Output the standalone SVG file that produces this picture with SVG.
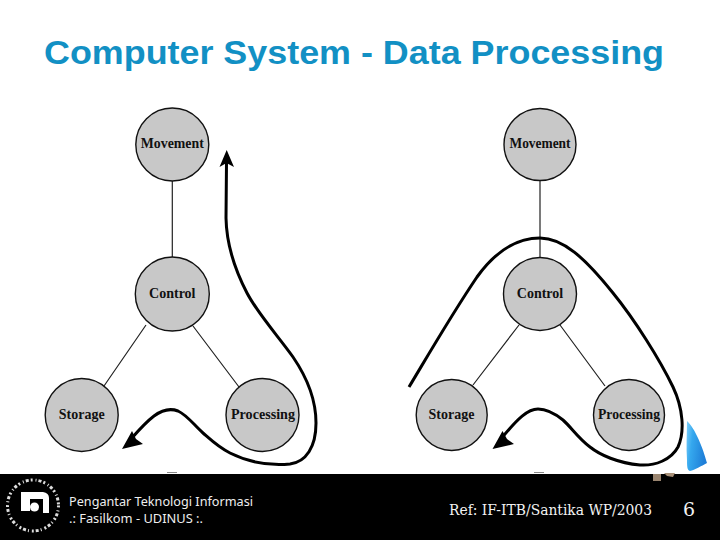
<svg xmlns="http://www.w3.org/2000/svg" width="720" height="540" viewBox="0 0 720 540">
  <defs>
    <linearGradient id="drop" x1="0" y1="0" x2="1" y2="0.3">
      <stop offset="0" stop-color="#7fd0fa"/>
      <stop offset="0.35" stop-color="#35a8ee"/>
      <stop offset="1" stop-color="#1f7fd8"/>
    </linearGradient>
  </defs>
  <style>
    .title{font:bold 33.5px "Liberation Sans",Arial,sans-serif;fill:#1290c4}
    .node{fill:#c8c8c8;stroke:#111;stroke-width:1.4}
    .lbl{font:bold 14px "Liberation Serif","Times New Roman",serif;fill:#111;text-anchor:middle}
    .link{stroke:#222;stroke-width:1.2;fill:none}
    .flow{stroke:#000;stroke-width:3;fill:none;stroke-linecap:butt;stroke-linejoin:round}
    .head{fill:#000}
    .foot{font:13px "Noto Sans","DejaVu Sans",sans-serif;fill:#eee}
    .ref{font:14px "DejaVu Serif","Liberation Serif",serif;fill:#f2f2f2}
  </style>

  <rect width="720" height="540" fill="#fff"/>
  <text class="title" x="44" y="64" textLength="620" lengthAdjust="spacingAndGlyphs">Computer System - Data Processing</text>

  <g id="connectors">
    <path class="link" d="M172.3 181V257M146 325L104 386M193 326L239 387"/>
    <path class="link" d="M540 181V257M519 325L473 385M560 325L605 386"/>
    <path class="flow" d="M226.5 163L226 218C226.5 245 234 268 247 293C258 314 278 336 293 357C306 376 316 400 316 423C316 447 306 462 290 464C268 466 246 461 230 453C218 447 211 440 203 433C194 425 187 415 178 411C170 408 162 410 154 416C146 422 138 431 131 439"/>
    <polygon class="head" points="226.7,150 219.5,167 226.5,163 234,167"/>
    <polygon class="head" points="122,449 132,431 136,439 143,444"/>
    <path class="flow" d="M409 387C430 352 452 314 477 277C495 252 515 238 540 238C563 238 585 258 613 293C635 320 660 360 673 387C683 408 685 432 678 447C671 460 655 466 640 465C618 463 600 455 590 447C578 438 571 427 563 420C553 412 546 409 538 409C528 409 518 418 501 439"/>
    <polygon class="head" points="492.5,449 502.5,431 507,439 514,444"/>
  </g>

  <g id="node-movement-left"><circle class="node" cx="172.3" cy="144.5" r="36.5"/><text class="lbl" x="172.3" y="148" textLength="63" lengthAdjust="spacingAndGlyphs">Movement</text></g>
  <g id="node-control-left"><circle class="node" cx="172.3" cy="294" r="37"/><text class="lbl" x="172.3" y="298">Control</text></g>
  <g id="node-storage-left"><circle class="node" cx="81.7" cy="415" r="36.5"/><text class="lbl" x="81.7" y="419">Storage</text></g>
  <g id="node-processing-left"><circle class="node" cx="262.5" cy="415" r="36.5"/><text class="lbl" x="263" y="419" textLength="64" lengthAdjust="spacingAndGlyphs">Processing</text></g>

  <g id="node-movement-right"><circle class="node" cx="540" cy="144.5" r="36"/><text class="lbl" x="540" y="148" textLength="61" lengthAdjust="spacingAndGlyphs">Movement</text></g>
  <g id="node-control-right"><circle class="node" cx="540" cy="294" r="36.5"/><text class="lbl" x="540" y="298">Control</text></g>
  <g id="node-storage-right"><circle class="node" cx="451.7" cy="415" r="35.5"/><text class="lbl" x="451.5" y="419">Storage</text></g>
  <g id="node-processing-right"><circle class="node" cx="629" cy="415" r="35.5"/><text class="lbl" x="629" y="419" textLength="62" lengthAdjust="spacingAndGlyphs">Processing</text></g>

  <path d="M687 421C695 428 703 448 707 463C701 466 695 470 690 471C687 470 687 466 687 460C686 447 687 433 687 421Z" fill="url(#drop)"/>

  <rect id="footer-bar" x="0" y="474" width="720" height="66" fill="#000"/>
  <rect x="653" y="474" width="8" height="7" fill="#9a8570"/>
  <path d="M664 473H675L673 477L667 476Z" fill="#a89078"/>
  <g fill="#888">
    <rect x="167" y="472" width="10" height="1"/>
    <rect x="534" y="472" width="10" height="1"/>
  </g>

  <g id="logo">
    <circle cx="33" cy="505.5" r="25.5" fill="none" stroke="#ddd" stroke-width="3" stroke-dasharray="2 3 1 2 3 2"/>
    <path d="M21 492H43Q49 493 49 498V513H43V499H30V511H21Z" fill="#fff"/>
    <circle cx="34.5" cy="507" r="4.5" fill="#fff"/>
  </g>

  <text class="foot" x="69" y="506" textLength="184" lengthAdjust="spacingAndGlyphs">Pengantar Teknologi Informasi</text>
  <text class="foot" x="69" y="523" textLength="134" lengthAdjust="spacingAndGlyphs">.: Fasilkom - UDINUS :.</text>
  <text class="ref" x="449" y="515" textLength="203" lengthAdjust="spacingAndGlyphs">Ref: IF-ITB/Santika WP/2003</text>
  <text class="ref" x="683" y="516" style="font-size:19px">6</text>
</svg>
